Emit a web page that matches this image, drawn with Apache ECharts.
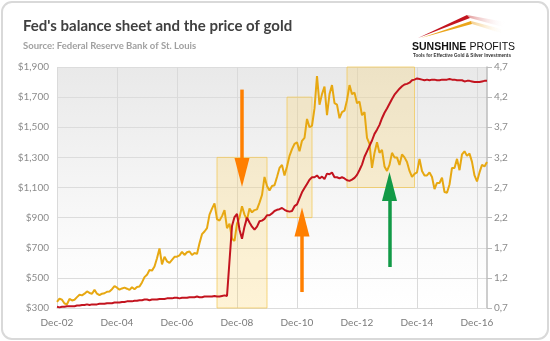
<!DOCTYPE html>
<html><head><meta charset="utf-8">
<script src="https://cdn.jsdelivr.net/npm/echarts@6/dist/echarts.min.js"></script>
<style>
html,body{margin:0;padding:0;background:#fff;}
#wrap{position:relative;width:550px;height:341px;}
#c{width:550px;height:341px;}
#frame{position:absolute;left:1px;top:1px;width:544px;height:335px;border:2px solid #d9d9d9;border-radius:11px;pointer-events:none;}
</style></head>
<body><div id="wrap"><div id="c"></div><div id="frame"></div></div>
<script>
// Monthly categories Dec-02 ... Apr-17
const monthNames = ['Jan','Feb','Mar','Apr','May','Jun','Jul','Aug','Sep','Oct','Nov','Dec'];
const categories = [];
(function(){ let y=2002, m=11; while(!(y===2017 && m===4)){ categories.push(monthNames[m]+'-'+String(y%100).padStart(2,'0')); m++; if(m===12){m=0;y++;} } })();

// Gold price, USD/oz
const gold = [
 340,
 362,355,330,325,360,350,355,372,388,384,395,410,
 400,395,420,395,385,395,398,408,410,425,446,435,
 422,430,435,428,420,438,425,440,442,470,505,520,
 552,548,575,630,695,590,640,610,600,620,640,641,
 650,672,652,670,675,652,665,659,730,790,808,830,
 920,960,995,890,880,910,950,830,860,760,745,860,
 900,975,920,885,960,935,950,955,1000,1050,1170,1110,
 1080,1110,1115,1170,1230,1250,1180,1240,1310,1355,1390,1400,
 1340,1410,1430,1555,1500,1510,1625,1840,1650,1720,1770,1580,
 1720,1780,1660,1650,1560,1600,1610,1680,1780,1720,1730,1660,
 1670,1580,1600,1430,1390,1230,1330,1400,1330,1350,1240,1210,
 1250,1330,1300,1300,1250,1320,1300,1270,1210,1170,1190,1200,
 1290,1210,1180,1180,1200,1170,1090,1130,1130,1165,1070,1065,
 1120,1230,1230,1290,1215,1320,1340,1310,1325,1270,1180,1140,
 1200,1250,1240,1270
];
// Fed total assets, USD trillion
const fedAssets = [
 0.72,
 0.71,0.72,0.72,0.73,0.73,0.73,0.73,0.74,0.74,0.75,0.75,0.76,
 0.75,0.76,0.76,0.76,0.77,0.77,0.77,0.78,0.78,0.78,0.79,0.79,
 0.79,0.80,0.80,0.81,0.81,0.81,0.82,0.82,0.83,0.83,0.84,0.84,
 0.83,0.84,0.84,0.84,0.85,0.85,0.85,0.86,0.86,0.86,0.87,0.87,
 0.86,0.87,0.87,0.87,0.88,0.88,0.88,0.89,0.88,0.88,0.89,0.89,
 0.89,0.89,0.90,0.89,0.89,0.90,0.91,0.90,1.48,2.06,2.21,2.26,
 2.00,1.85,2.05,2.20,2.12,2.05,2.00,2.05,2.14,2.15,2.18,2.24,
 2.24,2.27,2.31,2.33,2.34,2.36,2.33,2.31,2.30,2.31,2.39,2.42,
 2.52,2.62,2.69,2.76,2.83,2.87,2.87,2.90,2.85,2.88,2.84,2.93,
 2.92,2.95,2.87,2.87,2.85,2.87,2.85,2.82,2.81,2.83,2.86,2.91,
 2.99,3.08,3.21,3.30,3.39,3.48,3.59,3.66,3.74,3.85,3.94,4.01,
 4.09,4.17,4.24,4.29,4.34,4.38,4.41,4.42,4.44,4.48,4.49,4.51,
 4.50,4.49,4.48,4.49,4.48,4.49,4.49,4.48,4.48,4.49,4.49,4.49,
 4.50,4.49,4.49,4.48,4.48,4.48,4.46,4.47,4.47,4.46,4.45,4.45,
 4.45,4.46,4.47,4.47
];
// Highlighted periods [start, end, low $, high $]
const boxes = [
 ['Apr-08','Dec-09',300,1300],
 ['Aug-10','Jun-11',900,1700],
 ['Aug-12','Nov-14',1100,1900]
];
// Arrows [category, from $, to $, colour]
const arrows = [
 ['Feb-09',1750,1200,'#ff7f00'],
 ['Feb-11',406,871,'#ff7f00'],
 ['Jan-14',572,1107,'#129a47']
];
const leftTicks = {min:300,max:1900,interval:200};
const rightTicks = {min:0.7,max:4.7,interval:0.5};

const FONT = 'Lato';
const chart = echarts.init(document.getElementById('c'), null, {renderer:'canvas'});
const option = {
  animation:false,
  title:{
    text:"Fed's balance sheet and the price of gold",
    subtext:'Source: Federal Reserve Bank of St. Louis',
    left:18, top:14, itemGap:7,
    textStyle:{fontFamily:FONT,fontWeight:'bold',fontSize:15,color:'#404040'},
    subtextStyle:{fontFamily:FONT,fontWeight:'bold',fontSize:9.5,color:'#a0a0a0'}
  },
  grid:{left:57,right:63,top:67,bottom:33,show:true,borderWidth:0,
    backgroundColor:new echarts.graphic.LinearGradient(0,0,0,1,[
      {offset:0,color:'#e9e9e9'},{offset:0.8,color:'#fcfcfc'},{offset:1,color:'#ffffff'}])},
  xAxis:{type:'category',data:categories,boundaryGap:false,
    axisLine:{show:true,lineStyle:{color:'#dcdcdc'}},
    axisTick:{show:false},
    axisLabel:{interval:23,margin:10,fontFamily:FONT,fontSize:10,color:'#7a7a7a'},
    splitLine:{show:true,interval:23,lineStyle:{color:'#dadada',width:1}}},
  yAxis:[
    {type:'value',min:leftTicks.min,max:leftTicks.max,interval:leftTicks.interval,
     axisLine:{show:false},axisTick:{show:false},
     axisLabel:{margin:8,fontFamily:FONT,fontSize:10,color:'#8c8c8c',
       formatter:v=>'$'+v.toLocaleString('en-US')},
     splitLine:{show:true,lineStyle:{color:'#dcdcdc',width:1}}},
    {type:'value',position:'right',min:rightTicks.min,max:rightTicks.max,interval:rightTicks.interval,
     axisLine:{show:true,lineStyle:{color:'#bdbdbd',width:1.5}},
     axisTick:{show:true,length:5,lineStyle:{color:'#bdbdbd'}},
     axisLabel:{margin:7,fontFamily:FONT,fontSize:10,color:'#8c8c8c',
       formatter:v=>v.toFixed(1).replace('.',',')},
     splitLine:{show:false}}
  ],
  series:[
    {name:'Gold',type:'line',data:gold,yAxisIndex:0,showSymbol:false,symbol:'none',
     lineStyle:{color:'#e7a812',width:2},itemStyle:{color:'#e7a812'},z:3,
     markArea:{silent:true,label:{show:false},
       itemStyle:{color:'rgba(250,208,95,0.26)',borderColor:'rgba(242,200,90,0.75)',borderWidth:1},
       data:boxes.map(b=>[{xAxis:b[0],yAxis:b[2]},{xAxis:b[1],yAxis:b[3]}])},
    },
    {name:'Fed',type:'line',data:fedAssets,yAxisIndex:1,showSymbol:false,symbol:'none',
     lineStyle:{color:'#c3141f',width:2},itemStyle:{color:'#c3141f'},z:4},
    {name:'arrows',type:'line',data:[],yAxisIndex:0,z:5,
     markLine:{silent:true,animation:false,label:{show:false},
       data:arrows.map(a=>[
         {coord:[a[0],a[1]],symbol:'none',lineStyle:{color:a[3],width:3.5,type:'solid'},itemStyle:{color:a[3]}},
         {coord:[a[0],a[2]],symbol:'triangle',symbolSize:[15,29],itemStyle:{color:a[3]}}
       ])}}
  ],
  graphic:[
    {type:'polygon',shape:{points:[[418,38],[467,15],[470,18]]},style:{fill:'#c3141f'}},
    {type:'polygon',shape:{points:[[421,38],[471,21],[472,24]]},style:{fill:'#eba51c'}},
    {type:'polygon',shape:{points:[[467,15],[505,22],[503,27],[470,18]]},
      style:{fill:new echarts.graphic.LinearGradient(0,0,1,0,[{offset:0,color:'rgba(200,60,60,0.55)'},{offset:1,color:'rgba(255,255,255,0)'}])}},
    {type:'polygon',shape:{points:[[471,21],[505,30],[504,34],[472,24]]},
      style:{fill:new echarts.graphic.LinearGradient(0,0,1,0,[{offset:0,color:'rgba(235,165,40,0.55)'},{offset:1,color:'rgba(255,255,255,0)'}])}},
    {type:'text',left:412,top:41,style:{
      text:'{a|SUNSHINE} {b|PROFITS}',
      rich:{a:{fontFamily:'Liberation Sans',fontWeight:'bold',fontSize:10.5,fill:'#111'},
            b:{fontFamily:'Liberation Sans',fontSize:10.5,fill:'#111'}}}},
    {type:'text',left:413,top:53,style:{text:'Tools for Effective Gold & Silver Investments',
      fontFamily:'Liberation Sans',fontWeight:'bold',fontSize:4.6,fill:'#333'}}
  ]
};
chart.setOption(option);
</script></body></html>
